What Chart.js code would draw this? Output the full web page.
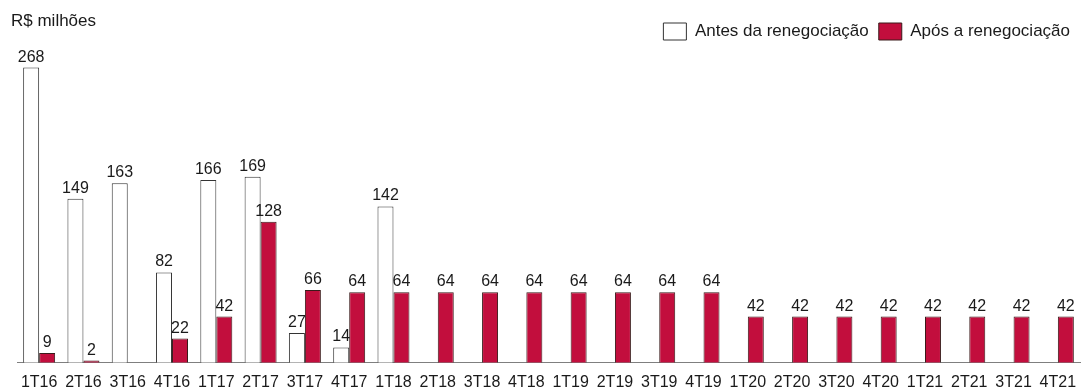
<!DOCTYPE html>
<html>
<head>
<meta charset="utf-8">
<script src="https://cdn.jsdelivr.net/npm/chart.js@4/dist/chart.umd.min.js"></script>
<style>
  html, body { margin: 0; padding: 0; background: #ffffff; }
  #wrap { width: 1091px; height: 392px; position: relative; }
</style>
</head>
<body>
<div id="wrap"><canvas id="c" width="1091" height="392"></canvas></div>
<script>
const categories = ['1T16','2T16','3T16','4T16','1T17','2T17','3T17','4T17','1T18','2T18','3T18','4T18','1T19','2T19','3T19','4T19','1T20','2T20','3T20','4T20','1T21','2T21','3T21','4T21'];
const antes = [268,149,163,82,166,169,27,14,142,null,null,null,null,null,null,null,null,null,null,null,null,null,null,null];
const apos = [9,2,null,22,42,128,66,64,64,64,64,64,64,64,64,64,42,42,42,42,42,42,42,42];
const seriesNames = ['Antes da renegociação','Após a renegociação'];
const unitLabel = 'R$ milhões';

const FONT = '"Liberation Sans", Arial, sans-serif';

const valueLabels = {
  id: 'valueLabels',
  afterDatasetsDraw(chart) {
    const ctx = chart.ctx;
    ctx.save();
    ctx.font = '16px ' + FONT;
    ctx.fillStyle = '#1a1a1a';
    ctx.textAlign = 'center';
    ctx.textBaseline = 'alphabetic';
    chart.data.datasets.forEach((ds, di) => {
      const meta = chart.getDatasetMeta(di);
      meta.data.forEach((el, i) => {
        const v = ds.data[i];
        if (v === null || v === undefined) return;
        ctx.fillText(String(v), el.x, el.y - 6);
      });
    });
    ctx.restore();
  }
};

const unitTitle = {
  id: 'unitTitle',
  afterDraw(chart) {
    const ctx = chart.ctx;
    ctx.save();
    ctx.font = '17px ' + FONT;
    ctx.fillStyle = '#1a1a1a';
    ctx.textAlign = 'left';
    ctx.textBaseline = 'middle';
    ctx.fillText(unitLabel, 11, 21);
    ctx.restore();
  }
};

new Chart(document.getElementById('c'), {
  type: 'bar',
  data: {
    labels: categories,
    datasets: [
      {
        label: seriesNames[0],
        data: antes,
        backgroundColor: '#ffffff',
        borderColor: '#333333',
        borderWidth: 1,
        categoryPercentage: 0.722,
        barPercentage: 1.0
      },
      {
        label: seriesNames[1],
        data: apos,
        backgroundColor: '#C20E3D',
        borderColor: '#3a1a1a',
        borderWidth: 1,
        categoryPercentage: 0.722,
        barPercentage: 1.0
      }
    ]
  },
  options: {
    responsive: false,
    animation: false,
    devicePixelRatio: 1,
    layout: { padding: { top: 13, left: 17, right: 11, bottom: -10 } },
    plugins: {
      tooltip: { enabled: false },
      legend: {
        position: 'top',
        align: 'end',
        labels: {
          boxWidth: 23,
          boxHeight: 17,
          padding: 10,
          color: '#1a1a1a',
          font: { family: FONT, size: 17 }
        }
      },
      title: { display: false }
    },
    scales: {
      x: {
        grid: { display: false, drawTicks: false },
        border: { display: true, color: '#7f7f7f', width: 1 },
        ticks: {
          color: '#1a1a1a',
          font: { family: FONT, size: 16 },
          padding: 10,
          maxRotation: 0,
          autoSkip: false
        }
      },
      y: {
        display: false,
        min: 0,
        max: 284
      }
    }
  },
  plugins: [valueLabels, unitTitle]
});
</script>
</body>
</html>
